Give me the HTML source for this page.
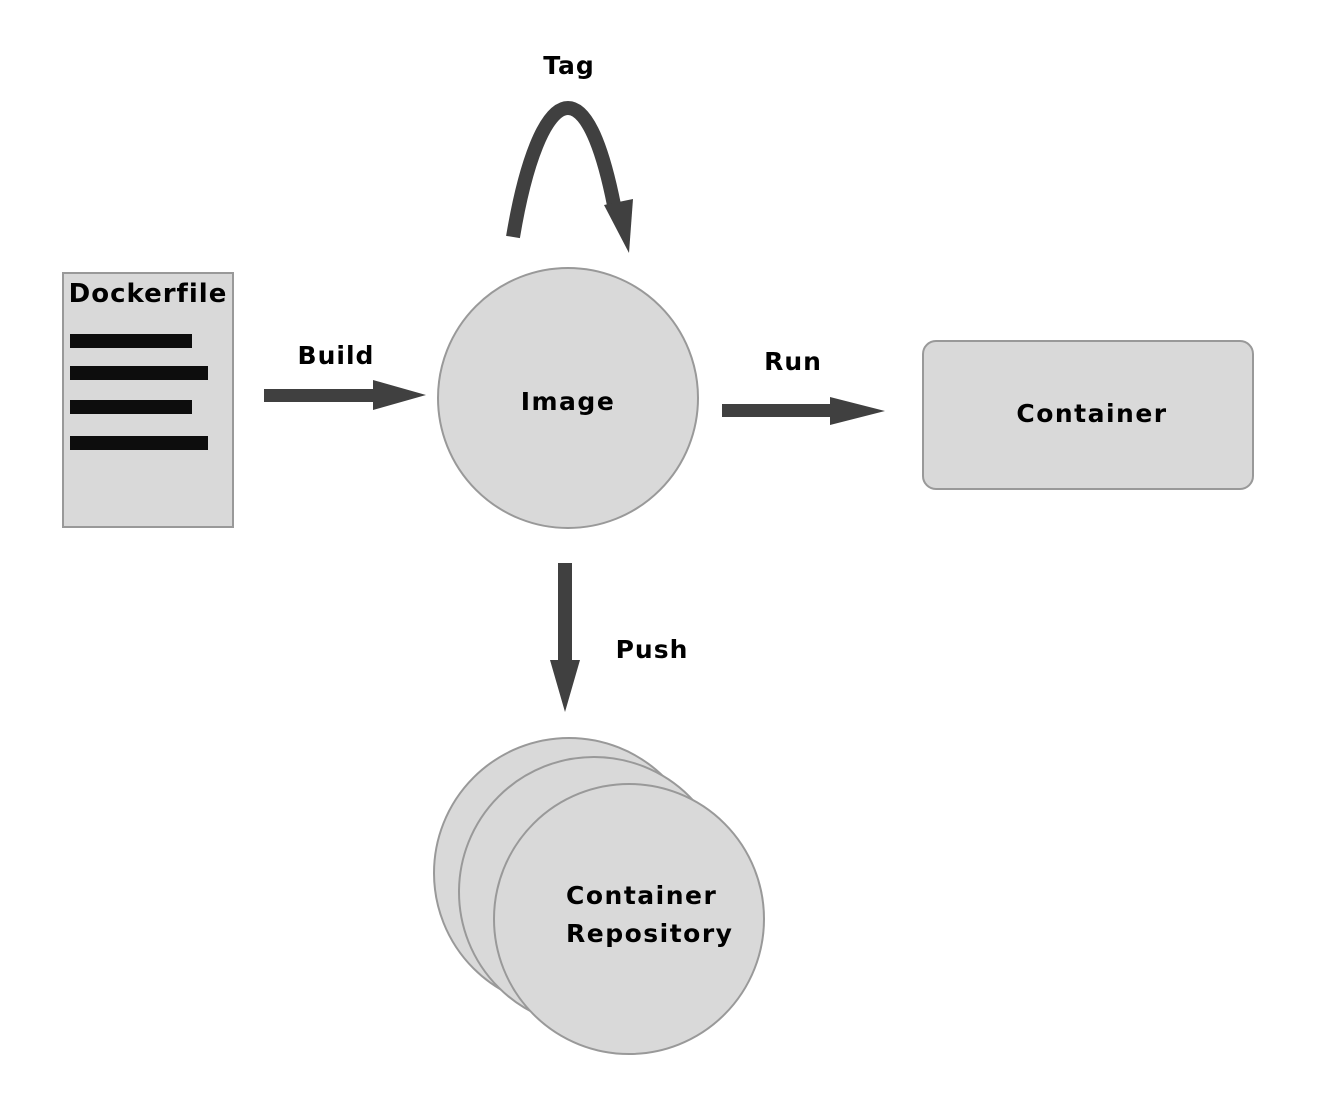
<!DOCTYPE html>
<html><head><style>body{margin:0;background:#fff}svg{display:block}</style></head><body>
<svg width="1340" height="1116" viewBox="0 0 1340 1116" xmlns="http://www.w3.org/2000/svg" font-family="'DejaVu Sans','Liberation Sans',sans-serif" font-weight="bold" fill="#000">
<rect x="63" y="273" width="170" height="254" fill="#d9d9d9" stroke="#999" stroke-width="2"/>
<text x="148" y="302" text-anchor="middle" font-size="26" letter-spacing="1">Dockerfile</text>
<rect x="70" y="334" width="122" height="14" fill="#0d0d0d"/>
<rect x="70" y="366" width="138" height="14" fill="#0d0d0d"/>
<rect x="70" y="400" width="122" height="14" fill="#0d0d0d"/>
<rect x="70" y="436" width="138" height="14" fill="#0d0d0d"/>
<text x="336" y="364" text-anchor="middle" font-size="25" letter-spacing="1">Build</text>
<polygon points="264,389 373,389 373,380 426,395 373,410 373,402 264,402" fill="#404040"/>
<circle cx="568" cy="398" r="130" fill="#d9d9d9" stroke="#999" stroke-width="2"/>
<text x="568" y="410" text-anchor="middle" font-size="25" letter-spacing="1.5">Image</text>
<text x="569" y="74" text-anchor="middle" font-size="25" letter-spacing="1">Tag</text>
<path d="M513,237 C525,165 545,108 568,108 C590,108 605,160 614,205" fill="none" stroke="#404040" stroke-width="14"/>
<polygon points="604,205 633,199 629,253" fill="#404040"/>
<text x="793" y="370" text-anchor="middle" font-size="25" letter-spacing="1">Run</text>
<polygon points="722,404 830,404 830,397 885,411 830,425 830,417 722,417" fill="#404040"/>
<rect x="923" y="341" width="330" height="148" rx="13" fill="#d9d9d9" stroke="#999" stroke-width="2"/>
<text x="1092" y="422" text-anchor="middle" font-size="25" letter-spacing="1.5">Container</text>
<polygon points="558,563 572,563 572,660 580,660 565,712 550,660 558,660" fill="#404040"/>
<text x="652" y="658" text-anchor="middle" font-size="25" letter-spacing="1">Push</text>
<circle cx="569" cy="873" r="135" fill="#d9d9d9" stroke="#999" stroke-width="2"/>
<circle cx="594" cy="892" r="135" fill="#d9d9d9" stroke="#999" stroke-width="2"/>
<circle cx="629" cy="919" r="135" fill="#d9d9d9" stroke="#999" stroke-width="2"/>
<text x="566" y="904" font-size="25" letter-spacing="1.5">Container</text>
<text x="566" y="942" font-size="25" letter-spacing="1.5">Repository</text>
</svg>
</body></html>
